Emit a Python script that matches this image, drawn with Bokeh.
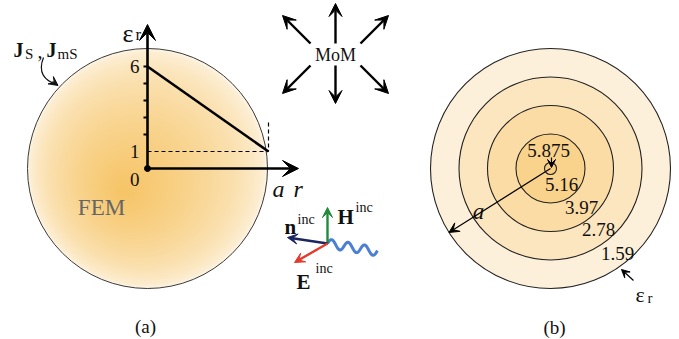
import numpy as np
from bokeh.plotting import figure
from bokeh.models import Range1d, Arrow, VeeHead
from bokeh.core.properties import value
from bokeh.embed import file_html
from bokeh.resources import INLINE

# ---------------- data ----------------
eps_tick_vals = [6, 1, 0]
eps_tick_labels = ["6", "1", "0"]
eps_minor = [2, 3, 4, 5, 6]
profile_r = [0.0, 1.0]          # r / a
profile_eps = [6.0, 1.0]
ring_edges = [1.0, 0.7625, 0.525, 0.2875, 0.05]   # r / a
ring_eps = [1.59, 2.78, 3.97, 5.16, 5.875]
ring_labels = ["1.59", "2.78", "3.97", "5.16", "5.875"]
ring_colors = ["#fdf0da", "#fce6c0", "#fbdca5", "#f9d28b", "#f8cd80"]
mom_dirs_x = [0, 1, 1, 0, -1, -1]
mom_dirs_y = [-1, -1, 1, 1, 1, -1]

# ---------------- layout ----------------
W, H = 679, 339
FONT = value("Liberation Serif")
A_CX, A_CY, R = 147, 168, 120
B_CX, B_CY = 550, 168
EPS_PX = 17
A_PX = 121

p = figure(width=W, height=H, x_range=Range1d(0, W), y_range=Range1d(H, 0),
           x_axis_type=None, y_axis_type=None, toolbar_location=None,
           output_backend="svg", min_border=0)
p.outline_line_color = None
p.grid.visible = False
p.background_fill_color = "white"
p.border_fill_color = "white"

# ---- (a) gradient filled disc ----
N = 60
FX, FY = 122, 192
c_edge = np.array([253, 243, 224])
c_mid = np.array([246, 196, 102])
ts = np.linspace(0, 1, N, endpoint=False)
xs = A_CX + ts * (FX - A_CX)
ys = A_CY + ts * (FY - A_CY)
rs = R * (1 - ts)
cols = []
for t in ts:
    w = t ** 0.6
    c = (1 - w) * c_edge + w * c_mid
    cols.append("#%02x%02x%02x" % tuple(int(round(v)) for v in c))
p.circle(xs, ys, radius=rs, fill_color=cols, line_color=None)
p.circle([A_CX], [A_CY], radius=R, fill_color=None, line_color="#3a3a3a", line_width=1)

# profile graph
px = [A_CX + r * A_PX for r in profile_r]
py = [A_CY - e * EPS_PX for e in profile_eps]
p.line([A_CX, px[1]], [py[1], py[1]], line_dash="4 3", line_color="black", line_width=1.2)
p.line([px[1], px[1]], [A_CY - 2.7 * EPS_PX, py[1]], line_dash="4 3", line_color="black", line_width=1.2)
p.line(px, py, line_color="black", line_width=2.6)
for e in eps_minor:
    p.line([A_CX - 4, A_CX], [A_CY - e * EPS_PX] * 2, line_color="black", line_width=2)
p.add_layout(Arrow(end=VeeHead(size=16, fill_color="black", line_color="black"),
                   x_start=A_CX, y_start=A_CY, x_end=A_CX, y_end=24,
                   line_width=2.6, line_color="black"))
p.add_layout(Arrow(end=VeeHead(size=16, fill_color="black", line_color="black"),
                   x_start=A_CX, y_start=A_CY, x_end=298, y_end=A_CY,
                   line_width=2.6, line_color="black"))
p.scatter([A_CX], [A_CY], size=6, color="black")
p.text(x=[139] * 3, y=[A_CY - v * EPS_PX for v in eps_tick_vals[:2]] + [A_CY + 11],
       text=eps_tick_labels, text_font=FONT, text_font_size=value("19px"),
       text_align="right", text_baseline="middle", text_color="#111")
p.text(x=[122], y=[33], text=["ε"], text_font=FONT, text_font_size=value("26px"),
       text_align="left", text_baseline="alphabetic", text_color="#111")
p.text(x=[135], y=[34], text=["r"], text_font=FONT, text_font_size=value("17px"),
       text_align="left", text_baseline="alphabetic", text_color="#111")
p.text(x=[272, 293], y=[188, 188], text=["a", "r"], text_font=FONT, text_font_size=value("24px"),
       text_font_style="italic", text_align="left", text_baseline="alphabetic", text_color="#111")
# J_S , J_mS
p.text(x=[13, 46], y=[49, 49], text=["J", "J"], text_font=FONT, text_font_size=value("20px"),
       text_font_style="bold", text_align="left", text_baseline="alphabetic", text_color="#111")
p.text(x=[24.5, 57], y=[53, 53], text=["S", "mS"], text_font=FONT, text_font_size=value("15px"),
       text_align="left", text_baseline="alphabetic", text_color="#111")
p.text(x=[37], y=[50], text=[","], text_font=FONT, text_font_size=value("20px"),
       text_align="left", text_baseline="alphabetic", text_color="#111")
p.bezier(x0=[43], y0=[57], x1=[56], y1=[84], cx0=[37], cy0=[72], cx1=[44], cy1=[80],
         line_color="#111", line_width=1.2)
p.add_layout(Arrow(end=VeeHead(size=9, fill_color="#111", line_color="#111"),
                   x_start=52, y_start=81, x_end=57.5, y_end=85, line_width=1.2, line_color="#111"))
p.text(x=[101], y=[207], text=["FEM"], text_font=FONT, text_font_size=value("23px"),
       text_align="center", text_baseline="middle", text_color="#666666")
p.text(x=[145], y=[326], text=["(a)"], text_font=FONT, text_font_size=value("19px"),
       text_align="center", text_baseline="middle", text_color="#111")

# ---- MoM ----
MX, MY = 335, 54
p.text(x=[MX], y=[MY], text=["MoM"], text_font=FONT, text_font_size=value("18px"),
       text_align="center", text_baseline="middle", text_color="#111")
for dx, dy in zip(mom_dirs_x, mom_dirs_y):
    sx = MX + 25 * dx
    sy = MY + 11 * dy
    L = 38 if dx == 0 else 28
    ex = sx + L * dx
    ey = sy + L * dy
    if dx == 0 and dy < 0:
        ey = 3
    p.add_layout(Arrow(end=VeeHead(size=13, fill_color="black", line_color="black"),
                       x_start=sx, y_start=sy, x_end=ex, y_end=ey,
                       line_width=2.4, line_color="black"))

# ---- incident wave ----
OX, OY = 327, 243
wx = np.linspace(OX, OX + 50, 120)
wy = OY + 0.16 * (wx - OX) - 4.5 * np.sin(2 * np.pi * (wx - OX) / 16.5)
p.line(wx, wy, line_color="#4a7fd1", line_width=3)
for (ex, ey, c) in [(327, 207, "#1f8b3b"), (287, 237, "#1b2560"), (294, 262, "#e23a2e")]:
    p.add_layout(Arrow(end=VeeHead(size=10, fill_color=c, line_color=c),
                       x_start=OX, y_start=OY, x_end=ex, y_end=ey, line_width=2.4, line_color=c))
p.text(x=[337, 284, 296], y=[216, 226, 281], text=["H", "n", "E"], text_font=FONT,
       text_font_size=value("21px"), text_font_style="bold", text_align="left",
       text_baseline="alphabetic", text_color="#111")
p.text(x=[355, 297, 315], y=[207, 219, 268], text=["inc", "inc", "inc"], text_font=FONT,
       text_font_size=value("14px"), text_align="left", text_baseline="alphabetic", text_color="#111")

# ---- (b) layered sphere ----
for re, col in zip(ring_edges, ring_colors):
    p.circle([B_CX], [B_CY], radius=re * R, fill_color=col, line_color="#222", line_width=1.1)
lab_x = [617, 598, 581, 561, 548]
lab_y = [253, 229, 207, 184, 150]
p.text(x=lab_x, y=lab_y, text=ring_labels, text_font=FONT, text_font_size=value("19px"),
       text_align="center", text_baseline="middle", text_color="#111")
p.add_layout(Arrow(end=VeeHead(size=8, fill_color="black", line_color="black"),
                   x_start=B_CX + 1, y_start=157, x_end=B_CX + 1, y_end=B_CY - 1,
                   line_width=1.2, line_color="black"))
ang = np.arctan2(63, -100)
p.add_layout(Arrow(end=VeeHead(size=10, fill_color="black", line_color="black"),
                   x_start=B_CX, y_start=B_CY, x_end=B_CX + R * np.cos(ang), y_end=B_CY + R * np.sin(ang),
                   line_width=1.2, line_color="black"))
p.text(x=[478], y=[211], text=["a"], text_font=FONT, text_font_size=value("23px"),
       text_font_style="italic", text_align="center", text_baseline="alphabetic", text_color="#111")
p.add_layout(Arrow(end=VeeHead(size=8, fill_color="black", line_color="black"),
                   x_start=633, y_start=280, x_end=621, y_end=269,
                   line_width=1.2, line_color="black"))
p.text(x=[635], y=[294], text=["ε"], text_font=FONT, text_font_size=value("22px"),
       text_align="left", text_baseline="alphabetic", text_color="#111")
p.text(x=[647], y=[297], text=["r"], text_font=FONT, text_font_size=value("15px"),
       text_align="left", text_baseline="alphabetic", text_color="#111")
p.text(x=[554], y=[327], text=["(b)"], text_font=FONT, text_font_size=value("19px"),
       text_align="center", text_baseline="middle", text_color="#111")

open("out.html", "w").write(file_html(p, INLINE))
